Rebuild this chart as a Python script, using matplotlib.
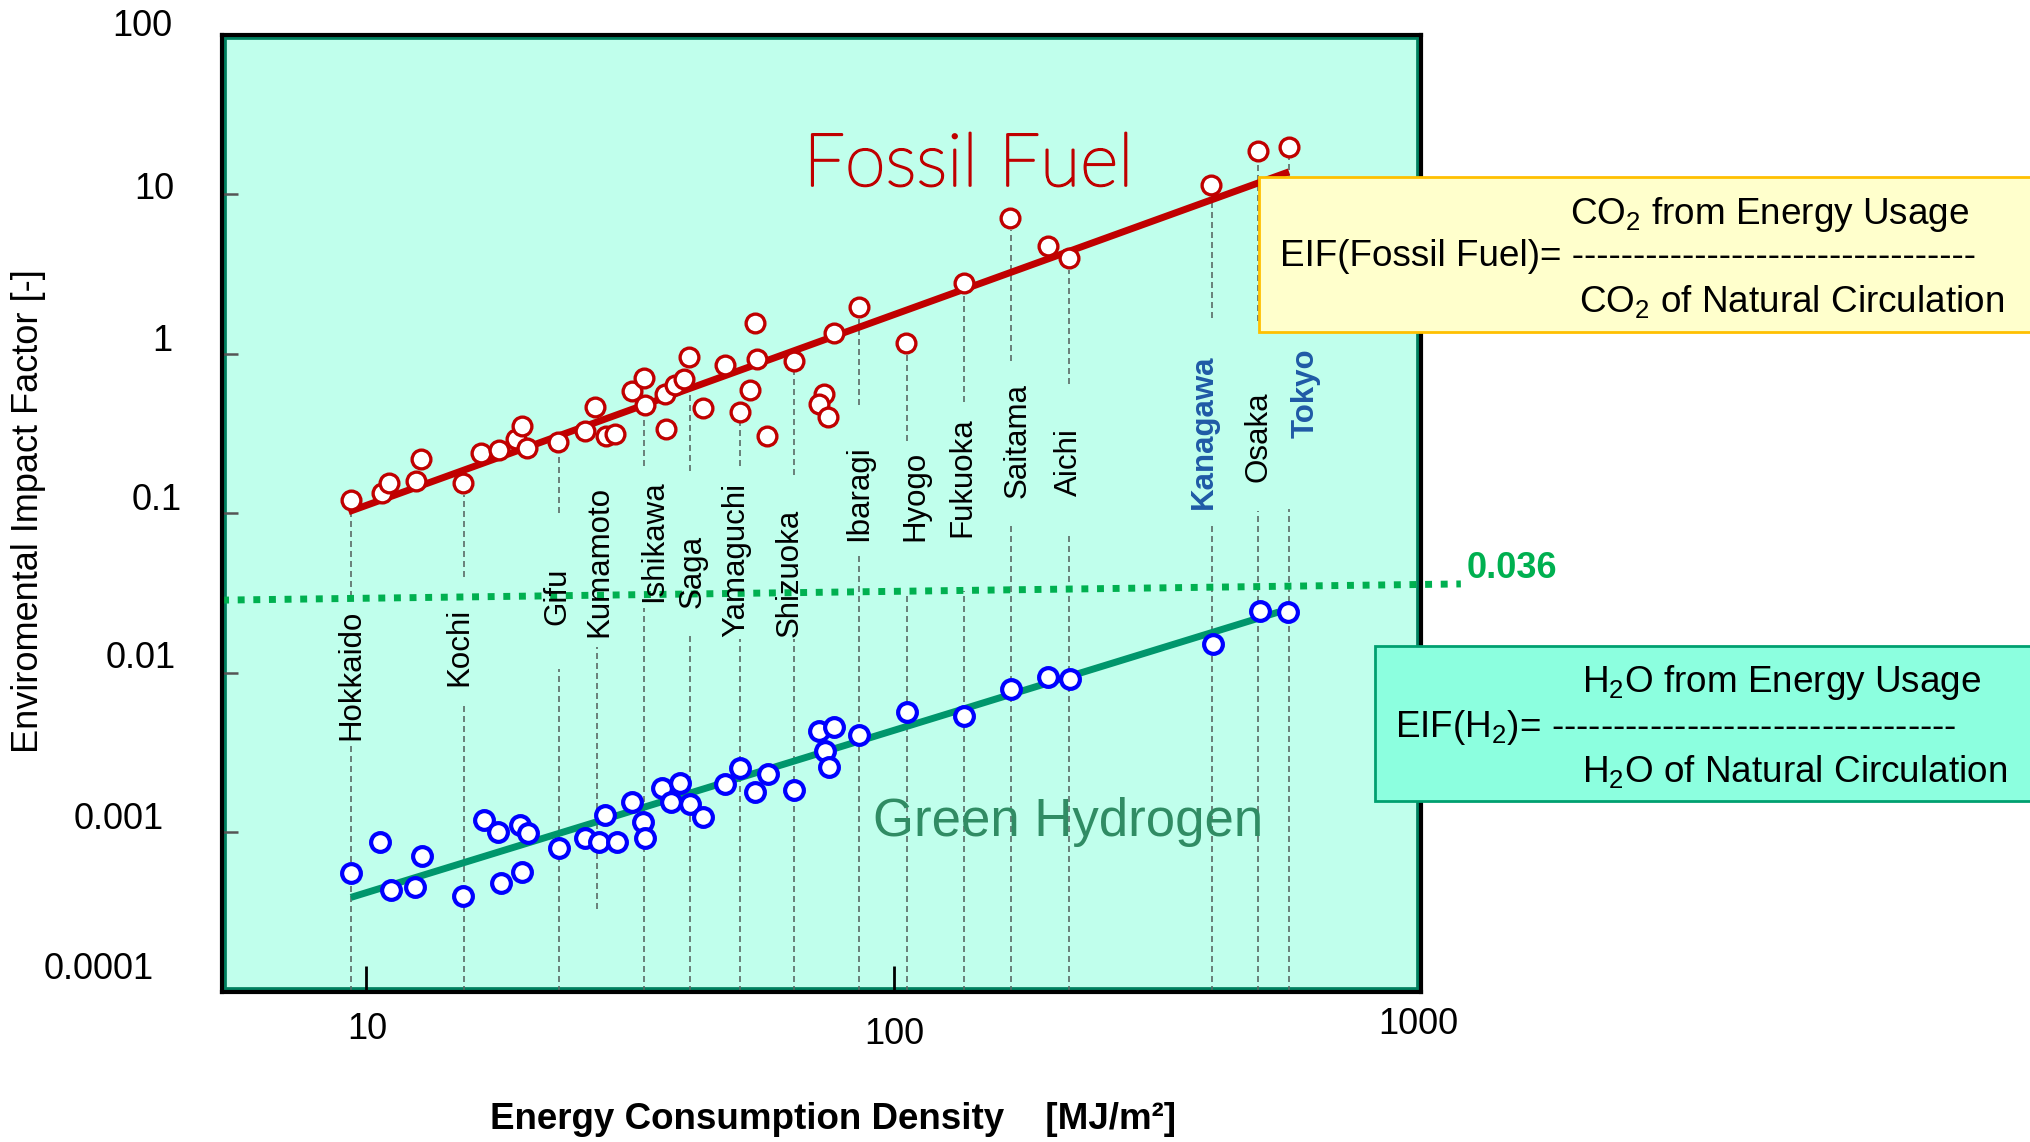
import matplotlib
matplotlib.use("Agg")
import matplotlib.pyplot as plt
import matplotlib.patheffects as pe
from matplotlib.patches import Rectangle
from matplotlib.ticker import NullLocator
from matplotlib.transforms import blended_transform_factory, offset_copy

plt.rcParams['font.family'] = ['Liberation Sans', 'DejaVu Sans']
plt.rcParams['mathtext.fontset'] = 'custom'
plt.rcParams['mathtext.rm'] = 'Liberation Sans'
plt.rcParams['mathtext.it'] = 'Liberation Sans:italic'
plt.rcParams['mathtext.bf'] = 'Liberation Sans:bold'

# energy consumption density [MJ/m2] vs EIF, one point per prefecture
fossil_x = [9.35, 10.71, 11.07, 12.42, 12.70, 15.26, 16.50, 17.89, 19.22, 19.73,
            20.22, 23.13, 25.94, 27.10, 28.43, 29.57, 31.95, 33.57, 33.71, 37.07,
            36.90, 38.44, 39.98, 40.93, 43.51, 47.89, 51.05, 53.49, 54.67, 55.07,
            57.54, 64.62, 73.67, 72.08, 75.10, 77.19, 85.82, 105.7, 135.8, 166.5,
            195.9, 215.4, 400.5, 490.1, 562.3]
fossil_y = [0.121, 0.134, 0.155, 0.160, 0.217, 0.154, 0.237, 0.249, 0.290, 0.352,
            0.255, 0.280, 0.329, 0.465, 0.304, 0.313, 0.585, 0.700, 0.478, 0.335,
            0.558, 0.636, 0.690, 0.956, 0.456, 0.848, 0.431, 0.591, 1.56, 0.921,
            0.306, 0.903, 0.558, 0.483, 0.399, 1.35, 1.95, 1.16, 2.76, 7.05,
            4.73, 3.99, 11.4, 18.6, 19.8]

h2_x = [9.35, 10.63, 11.14, 12.40, 12.75, 15.28, 16.74, 17.74, 18.03, 19.59,
        20.31, 19.76, 23.16, 26.02, 27.63, 28.31, 29.89, 31.91, 33.42, 33.77,
        36.31, 37.83, 39.40, 41.16, 43.51, 47.89, 51.20, 54.50, 57.69, 64.62,
        72.08, 77.19, 73.99, 75.30, 86.09, 106.0, 135.8, 166.7, 196.2, 215.7,
        403.5, 494.4, 559.8]
h2_y = [5.56e-4, 8.71e-4, 4.34e-4, 4.55e-4, 7.08e-4, 3.99e-4, 1.19e-3, 9.97e-4, 4.78e-4, 1.11e-3,
        9.83e-4, 5.65e-4, 7.91e-4, 9.22e-4, 8.71e-4, 1.28e-3, 8.71e-4, 1.55e-3, 1.16e-3, 9.14e-4,
        1.90e-3, 1.54e-3, 2.02e-3, 1.50e-3, 1.24e-3, 2.00e-3, 2.51e-3, 1.79e-3, 2.31e-3, 1.84e-3,
        4.31e-3, 4.58e-3, 3.23e-3, 2.55e-3, 4.06e-3, 5.64e-3, 5.37e-3, 7.91e-3, 9.34e-3, 9.16e-3,
        1.51e-2, 2.43e-2, 2.41e-2]

# fitted trend lines (end points)
fossil_fit_x = [9.26, 562.0]
fossil_fit_y = [0.102, 13.8]
h2_fit_x = [9.35, 537.0]
h2_fit_y = [3.9e-4, 0.024]

# natural circulation limit for hydrogen
limit_x = [5.33, 1190.0]
limit_y = [0.0285, 0.036]
limit_text = '0.036'

cities = ['Hokkaido', 'Kochi', 'Gifu', 'Kumamoto', 'Ishikawa', 'Saga', 'Yamaguchi',
          'Shizuoka', 'Ibaragi', 'Hyogo', 'Fukuoka', 'Saitama', 'Aichi',
          'Kanagawa', 'Osaka', 'Tokyo']
city_x = [9.35, 15.3, 23.2, 27.4, 33.7, 41.1, 51.2, 64.7, 86.0, 106.0, 135.8,
          167.0, 215.0, 402.0, 490.0, 562.0]
highlight = ['Kanagawa', 'Tokyo']

yticks = [100, 10, 1, 0.1, 0.01, 0.001, 0.0001]
ytick_labels = ['100', '10', '1', '0.1', '0.01', '0.001', '0.0001']
xticks = [10, 100, 1000]
xtick_labels = ['10', '100', '1000']

# layout: leader line pieces (axes fraction), label bottoms and x shifts (pixels)
upper_seg = [(0.412, 0.499), (0.433, 0.519), (0.500, 0.563), None, (0.549, 0.601),
             (0.544, 0.629), (0.549, 0.603), (0.540, 0.648), (0.613, 0.704),
             (0.575, 0.665), (0.616, 0.728), (0.659, 0.796), (0.635, 0.754),
             (0.704, 0.831), (0.701, 0.867), (0.702, 0.871)]
lower_seg = [(0.0, 0.257), (0.0, 0.298), (0.0, 0.337), (0.086, 0.360), (0.0, 0.401),
             (0.0, 0.374), (0.0, 0.368), (0.0, 0.368), (0.0, 0.458), (0.0, 0.415),
             (0.0, 0.419), (0.0, 0.490), (0.0, 0.480), (0.0, 0.490), (0.0, 0.502),
             (0.0, 0.504)]
label_bottom = [0.263, 0.319, 0.383, 0.371, 0.407, 0.401, 0.371, 0.371, 0.471,
                0.471, 0.475, 0.516, 0.518, 0.504, 0.533, 0.579]
label_dx = [1, -4, -2, 2, 10, 3, -4, -4, 0, 8, -1, 7, 0, -8, 1, 17]
ylab_dx = [-50, -48, -50, -40, -46, -58, -68]
ylab_dy = [8, 5, 12, 13, 14, 13, 22]
xlab_dx = [1, 1, -3]
xlab_dy = [-38, -43, -33]

fig = plt.figure(figsize=(20.3, 11.42), dpi=100)
ax = fig.add_axes([0.1094, 0.1316, 0.5906, 0.8381])
ax.set_xscale('log')
ax.set_yscale('log')
ax.set_xlim(5.33, 1000)
ax.set_ylim(1e-4, 100)
ax.set_facecolor('#C0FFEC')

ax.set_xticks([10, 100])
ax.set_yticks([10, 1, 0.1, 0.01, 0.001])
ax.xaxis.set_minor_locator(NullLocator())
ax.yaxis.set_minor_locator(NullLocator())
ax.tick_params(axis='x', direction='in', length=18.5, width=2, color='black',
               labelbottom=False)
ax.tick_params(axis='y', direction='in', length=11.5, width=1.8, color='#555555',
               labelleft=False)
for sp in ax.spines.values():
    sp.set_linewidth(3)
    sp.set_color('black')
    sp.set_zorder(6)
ax.add_patch(Rectangle((0, 0), 1, 1, transform=ax.transAxes, fill=False,
                       ec='#00805F', lw=7, zorder=0.5, clip_on=True))

# tick labels
for v, s, dx, dy in zip(yticks, ytick_labels, ylab_dx, ylab_dy):
    ax.annotate(s, xy=(0, v), xycoords=('axes fraction', 'data'),
                xytext=(dx, dy), textcoords='offset pixels',
                ha='right', va='center', fontsize=26, annotation_clip=False)
for v, s, dx, dy in zip(xticks, xtick_labels, xlab_dx, xlab_dy):
    ax.annotate(s, xy=(v, 0), xycoords=('data', 'axes fraction'),
                xytext=(dx, dy), textcoords='offset pixels',
                ha='center', va='center', fontsize=26, annotation_clip=False)

# prefecture leader lines and names
bt = blended_transform_factory(ax.transData, ax.transAxes)
for i, (name, cx) in enumerate(zip(cities, city_x)):
    for seg in (upper_seg[i], lower_seg[i]):
        if seg is None:
            continue
        ax.axvline(cx, ymin=seg[0], ymax=seg[1], color='#5A6B66', lw=1.2,
                   ls=(0, (3.6, 2.4)), zorder=1)
    tr = offset_copy(bt, fig=fig, x=label_dx[i], y=0, units='dots')
    if name in highlight:
        ax.text(cx, label_bottom[i], name, transform=tr, rotation=90,
                ha='center', va='bottom', fontsize=22.5, fontweight='bold',
                color='#1F5AA6', zorder=5)
    else:
        ax.text(cx, label_bottom[i], name, transform=tr, rotation=90,
                ha='center', va='bottom', fontsize=22.5, color='black', zorder=5)

# limit line
ax.plot(limit_x, limit_y, color='#00B050', lw=5, ls=(0, (1.0, 1.25)),
        dash_capstyle='butt', clip_on=False, zorder=2)
ax.annotate(limit_text, xy=(limit_x[-1], limit_y[-1]), xytext=(6, 15),
            textcoords='offset pixels', ha='left', va='center', fontsize=26,
            fontweight='bold', color='#00B050', annotation_clip=False)

# trend lines and points
ax.plot(fossil_fit_x, fossil_fit_y, color='#C00000', lw=5,
        solid_capstyle='butt', zorder=3)
ax.plot(h2_fit_x, h2_fit_y, color='#00966C', lw=5,
        solid_capstyle='butt', zorder=3)
ax.plot(fossil_x, fossil_y, 'o', ls='none', ms=13.5, mfc='white',
        mec='#C00000', mew=2.4, zorder=4)
ax.plot(h2_x, h2_y, 'o', ls='none', ms=13.5, mfc='white',
        mec='#0000FF', mew=3, zorder=4)

# series titles; light face thickened a little with a stroke
ax.text(0.6226, 0.8421, 'Fossil Fuel', transform=ax.transAxes, ha='center',
        va='baseline', fontsize=53, color='#C00000',
        family=['Lato', 'DejaVu Sans'], fontweight='light', zorder=5,
        path_effects=[pe.withStroke(linewidth=1.6, foreground='#C00000')])
ax.text(0.7060, 0.1622, 'Green Hydrogen', transform=ax.transAxes, ha='center',
        va='baseline', fontsize=38, color='#308C64', zorder=5)

# axis titles
fig.text(0.0140, 0.5525, 'Enviromental Impact Factor [-]', rotation=90,
         ha='center', va='center', fontsize=26)
fig.text(0.4106, 0.0193, 'Energy Consumption Density    [MJ/m\u00b2]',
         ha='center', va='center', fontsize=26.5, fontweight='bold')

# definition boxes
dash = '-' * 33
fig.add_artist(Rectangle((0.6202, 0.7093), 0.5, 0.1353, transform=fig.transFigure,
                         fc='#FFFFCC', ec='#FFC000', lw=2, zorder=10))
fig.text(0.7734, 0.8039, r'CO$_\mathrm{2}$ from Energy Usage', fontsize=26.6,
         va='baseline', zorder=11)
fig.text(0.6305, 0.7671, 'EIF(Fossil Fuel)= ' + dash, fontsize=26.6,
         va='baseline', zorder=11)
fig.text(0.7778, 0.7264, r'CO$_\mathrm{2}$ of Natural Circulation', fontsize=26.6,
         va='baseline', zorder=11)

fig.add_artist(Rectangle((0.6771, 0.2986), 0.5, 0.1357, transform=fig.transFigure,
                         fc='#8CFFDF', ec='#00A070', lw=2, zorder=10))
fig.text(0.7793, 0.3942, r'H$_\mathrm{2}$O from Energy Usage', fontsize=26.6,
         va='baseline', zorder=11)
fig.text(0.6872, 0.3543, r'EIF(H$_\mathrm{2}$)= ' + dash, fontsize=26.6,
         va='baseline', zorder=11)
fig.text(0.7793, 0.3152, r'H$_\mathrm{2}$O of Natural Circulation', fontsize=26.6,
         va='baseline', zorder=11)

fig.savefig('out.png', dpi=100)
